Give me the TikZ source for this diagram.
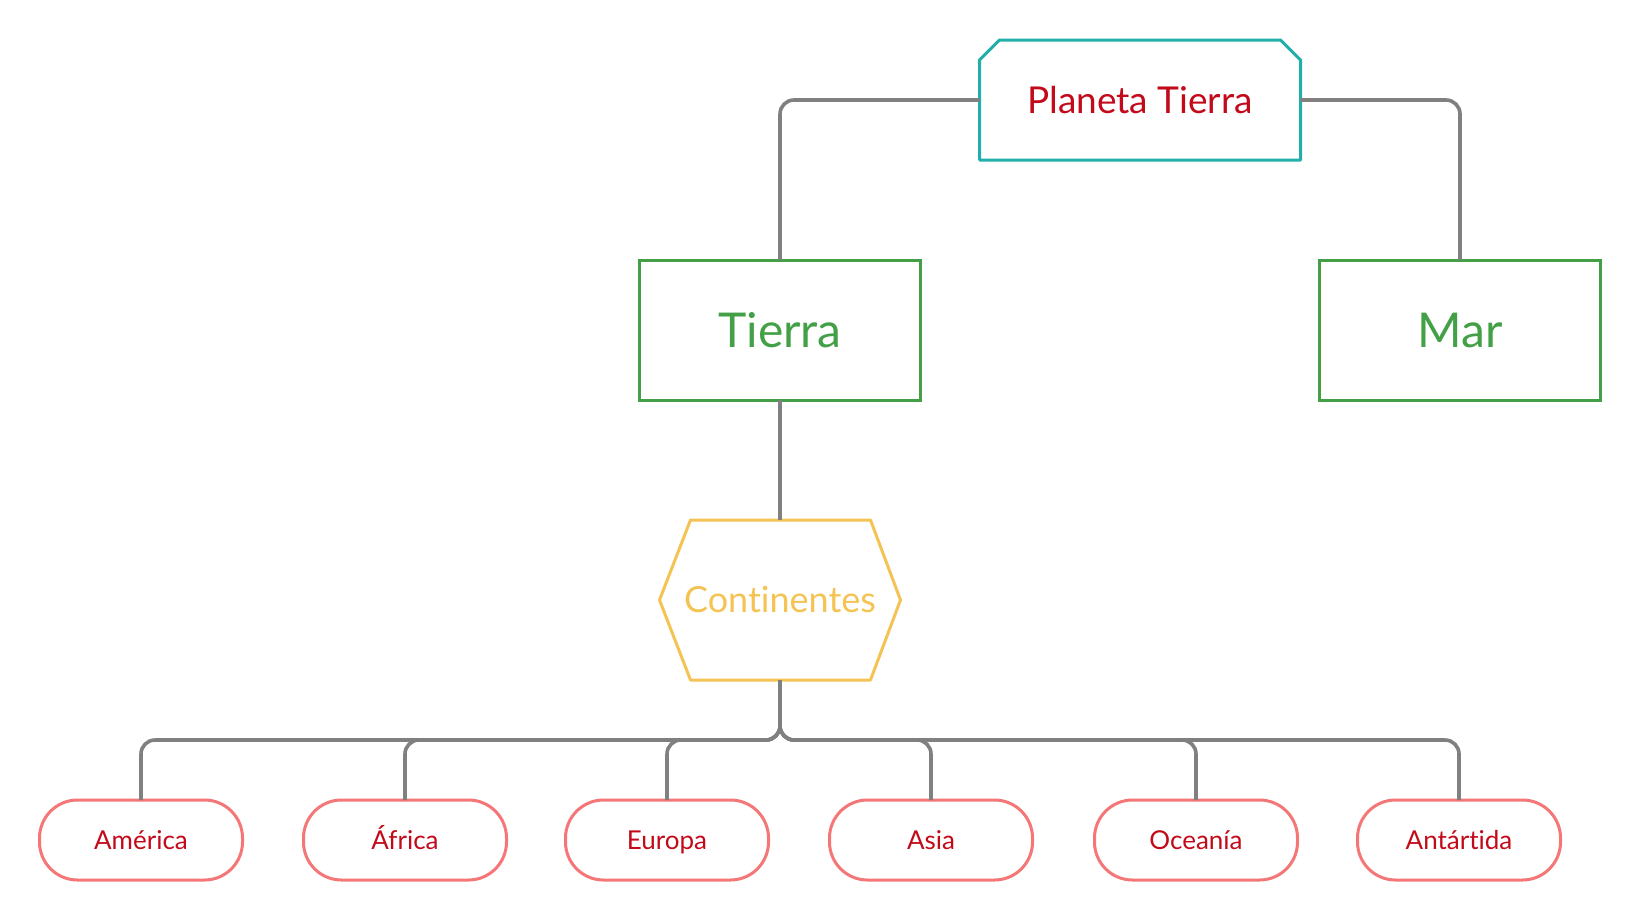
\documentclass[tikz,border=0pt]{standalone}
\usepackage{fontspec}
\setmainfont{Lato}[Ligatures=NoCommon]
\usetikzlibrary{calc}
\definecolor{cteal}{HTML}{22AFAA}
\definecolor{cred}{HTML}{C20A1A}
\definecolor{cgreen}{HTML}{43A047}
\definecolor{cyellow}{HTML}{F5C353}
\definecolor{cpink}{HTML}{F47676}
\definecolor{cgray}{HTML}{808080}
\tikzset{
  conn/.style={draw=cgray, line width=3.6pt, rounded corners=14pt},
  greenbox/.style={draw=cgreen, line width=3pt, minimum width=281pt, minimum height=140pt, outer sep=0pt, text=cgreen, font=\fontsize{48}{56}\selectfont},
  pill/.style={draw=cpink, line width=3pt, rounded corners=38pt, minimum width=203pt, minimum height=80pt, outer sep=0pt, text=cred, font=\fontsize{26}{30}\selectfont, text height=19pt, text depth=0pt},
  plainbox/.style={minimum width=#1, outer sep=0pt, inner sep=0pt},
}
\begin{document}
\begin{tikzpicture}[x=1pt,y=-1pt]
\useasboundingbox (0,0) rectangle (1640,921);
% top node
\node[plainbox=321pt, minimum height=120pt, text=cred, font=\fontsize{37}{44}\selectfont] (planeta) at (1140,100) {Planeta Tierra};
\draw[cteal, line width=3pt, line join=round]
  (planeta.south west) -- ($(planeta.north west)+(0,20)$) -- ($(planeta.north west)+(20,0)$)
  -- ($(planeta.north east)+(-20,0)$) -- ($(planeta.north east)+(0,20)$) -- (planeta.south east) -- cycle;
% second level
\node[greenbox] (tierra) at (780,330) {Tierra};
\node[greenbox] (mar) at (1460,330) {Mar};
% hexagon
\node[plainbox=241pt, minimum height=160pt, text=cyellow, font=\fontsize{36}{42}\selectfont] (hex) at (780,600) {Continentes};
\draw[cyellow, line width=3pt, line join=round]
  (hex.west) -- ($(hex.north west)+(31,0)$) -- ($(hex.north east)+(-30,0)$) -- (hex.east)
  -- ($(hex.south east)+(-30,0)$) -- ($(hex.south west)+(31,0)$) -- cycle;
% leaves
\node[pill] (america) at (141,840) {América};
\node[pill] (africa) at (405,840) {África};
\node[pill] (europa) at (667,840) {Europa};
\node[pill] (asia) at (931,840) {Asia};
\node[pill] (oceania) at (1196,840) {Oceanía};
\node[pill] (antartida) at (1459,840) {Antártida};
\coordinate (bus) at (780,740);
% connectors
\path[conn] (planeta.west) -| (tierra.north);
\path[conn] (planeta.east) -| (mar.north);
\path[conn] (tierra.south) -- (hex.north);
\foreach \c in {america,africa,europa,asia,oceania,antartida}{
  \path[conn] (hex.south) -- (hex.south |- bus) -| (\c.north);
}
\end{tikzpicture}
\end{document}
